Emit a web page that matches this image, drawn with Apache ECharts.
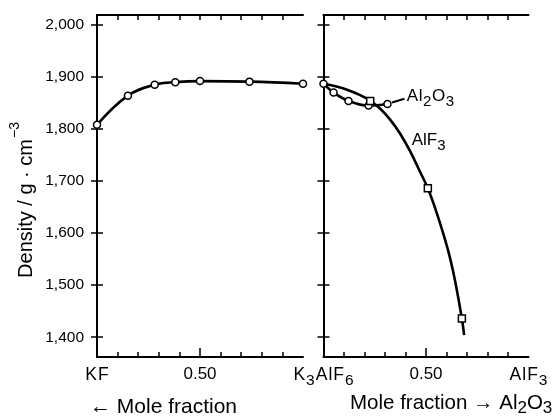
<!DOCTYPE html>
<html>
<head>
<meta charset="utf-8">
<script src="https://cdn.jsdelivr.net/npm/echarts@6/dist/echarts.min.js"></script>
<style>html,body{margin:0;padding:0;background:#fff}#c{width:557px;height:417px}</style>
</head>
<body>
<div id="c"></div>
<script>
// ---- data ----
const yTicks = [1.4, 1.5, 1.6, 1.7, 1.8, 1.9, 2.0];
const xMinorTicks = [0.1, 0.2, 0.3, 0.4, 0.5, 0.6, 0.7, 0.8, 0.9];
const leftLabels = ['KF', '0.50', ''];
const rightLabels = ['K3AlF6', '0.50', 'AlF3'];
const labelPositions = [0, 0.5, 1];

// KF - K3AlF6 branch
const kfX = [0, 0.15, 0.28, 0.38, 0.50, 0.74, 1.0];
const kfDensity = [1.808, 1.864, 1.885, 1.890, 1.892, 1.891, 1.887];

// K3AlF6 - Al2O3 branch
const al2o3X = [0, 0.049, 0.122, 0.22, 0.312];
const al2o3Density = [1.887, 1.870, 1.854, 1.845, 1.848];

// K3AlF6 - AlF3 branch (measured points)
const alf3X = [0.228, 0.509, 0.675];
const alf3Density = [1.854, 1.686, 1.436];
// AlF3 curve trace
const alf3CurveX = [0, 0.098, 0.179, 0.228, 0.277, 0.325, 0.374, 0.423, 0.472, 0.509, 0.553, 0.594, 0.618, 0.643, 0.675, 0.686];
const alf3CurveY = [1.887, 1.878, 1.865, 1.854, 1.839, 1.818, 1.791, 1.757, 1.717, 1.686, 1.638, 1.586, 1.551, 1.506, 1.436, 1.404];

// leader line for Al2O3 label
const leaderX = [0.334, 0.395];
const leaderY = [1.851, 1.858];
const alf3LabelPos = [0.43, 1.770];

const FONT = 'Liberation Sans, Arial, sans-serif';
const pair = (xs, ys) => xs.map((x, i) => [x, ys[i]]);

const chart = echarts.init(document.getElementById('c'));

const grids = [
  {left: 97, top: 15, width: 206, height: 342},
  {left: 323.5, top: 15, width: 205, height: 342}
];
const lineStyle = {color: '#000', width: 2};
const tickStyle = {color: '#000', width: 1.5};
function chemRichOf(big, small, pad) {
  return {
    n: {fontSize: big, fontFamily: FONT, color: '#000', lineHeight: big + 8, verticalAlign: 'top', padding: [0, pad, 0, pad]},
    s: {fontSize: small, fontFamily: FONT, color: '#000', lineHeight: big + 8, verticalAlign: 'top', padding: [Math.round(big * 0.38), pad, 0, pad]},
    d: {fontSize: 17, fontFamily: FONT, color: '#000', lineHeight: big + 8, verticalAlign: 'top'}
  };
}
function chem(t) {
  let out = '';
  for (const ch of t) {
    if (/[0-9]/.test(ch)) out += '{s|' + ch + '}';
    else out += '{n|' + ch + '}';
  }
  return out;
}

function xAxesFor(gi, labels) {
  return [
    {gridIndex: gi, type: 'value', min: 0, max: 1, position: 'bottom',
     axisLine: {show: true, lineStyle: lineStyle},
     axisTick: {show: true, inside: true, length: 5, lineStyle: tickStyle, customValues: xMinorTicks},
     axisLabel: {show: true, margin: 9, customValues: labelPositions,
       formatter: v => { const i = labelPositions.indexOf(v); return i >= 0 && labels[i] ? (labels[i] === '0.50' ? '{d|0.50}' : chem(labels[i])) : ''; },
       rich: chemRichOf(17.5, 15.5, 0.5)},
     splitLine: {show: false}},
    {gridIndex: gi, type: 'value', min: 0, max: 1, position: 'top',
     axisLine: {show: true, lineStyle: lineStyle},
     axisTick: {show: true, inside: true, length: 5, lineStyle: tickStyle, customValues: xMinorTicks},
     axisLabel: {show: false}, splitLine: {show: false}},
    {gridIndex: gi, type: 'value', min: 0, max: 1, position: 'bottom',
     axisLine: {show: false},
     axisTick: {show: true, inside: true, length: 9, lineStyle: tickStyle, customValues: [0.5]},
     axisLabel: {show: false}, splitLine: {show: false}}
  ];
}
function yAxesFor(gi, showLabels) {
  return [
    {gridIndex: gi, type: 'value', min: 1.362, max: 2.019, position: 'left',
     axisLine: {show: true, lineStyle: lineStyle},
     axisTick: {show: true, inside: true, length: 6, lineStyle: tickStyle, customValues: yTicks},
     axisLabel: {show: showLabels, margin: 13, customValues: yTicks, fontSize: 15.5, fontFamily: FONT, color: '#000',
       formatter: v => v.toFixed(3).replace('.', ',')},
     splitLine: {show: false}},
    {gridIndex: gi, type: 'value', min: 1.362, max: 2.019, position: 'right',
     axisLine: {show: true, lineStyle: lineStyle},
     axisTick: {show: true, inside: true, length: 6, lineStyle: tickStyle, customValues: yTicks},
     axisLabel: {show: false}, splitLine: {show: false}}
  ];
}

const circle = {symbol: 'circle', symbolSize: 7, itemStyle: {color: '#fff', borderColor: '#000', borderWidth: 1.5, opacity: 1}};
const square = {symbol: 'rect', symbolSize: 7, itemStyle: {color: '#fff', borderColor: '#000', borderWidth: 1.5, opacity: 1}};

chart.setOption({
  animation: false,
  backgroundColor: '#fff',
  grid: grids,
  xAxis: [...xAxesFor(0, leftLabels), ...xAxesFor(1, rightLabels)],
  yAxis: [...yAxesFor(0, true), ...yAxesFor(1, false)],
  series: [
    {type: 'line', xAxisIndex: 0, yAxisIndex: 0, data: pair(kfX, kfDensity), smooth: 0.4, clip: false,
     lineStyle: {color: '#000', width: 2.6}, ...circle, z: 5},
    {type: 'line', xAxisIndex: 3, yAxisIndex: 2, data: pair(alf3CurveX, alf3CurveY), smooth: 0.3, clip: false,
     showSymbol: false, lineStyle: {color: '#000', width: 2.6}, z: 4},
    {type: 'line', xAxisIndex: 3, yAxisIndex: 2, data: pair(al2o3X, al2o3Density), smooth: 0.4, clip: false,
     lineStyle: {color: '#000', width: 2.6}, ...circle, z: 5},
    {type: 'scatter', xAxisIndex: 3, yAxisIndex: 2, data: pair(alf3X, alf3Density), clip: false, ...square, z: 6},
    {type: 'line', xAxisIndex: 3, yAxisIndex: 2, data: pair(leaderX, leaderY), showSymbol: false, clip: false,
     lineStyle: {color: '#000', width: 2}, z: 4,
     endLabel: {show: true, formatter: chem('Al2O3'), rich: chemRichOf(17, 15, 0.3), distance: 2, offset: [0, 2]}},
    {type: 'scatter', xAxisIndex: 3, yAxisIndex: 2, data: [alf3LabelPos], symbolSize: 0, clip: false,
     itemStyle: {opacity: 1},
     label: {show: true, position: 'right', distance: 0, formatter: chem('AlF3'), rich: chemRichOf(17, 15, 0)}}
  ],
  graphic: [
    {type: 'text', x: 22, y: 200, rotation: Math.PI / 2, style: {
      text: '{a|Density / g · cm}{b|−3}', align: 'center', verticalAlign: 'middle',
      rich: {a: {fontSize: 20, fontFamily: FONT, fill: '#000', lineHeight: 28, verticalAlign: 'bottom'},
             b: {fontSize: 14, fontFamily: FONT, fill: '#000', lineHeight: 28, verticalAlign: 'top', padding: [0, 0, 13, 1]}}}},
    {type: 'text', x: 90, y: 407, style: {text: '← Mole fraction', fontSize: 21, fontFamily: FONT, fill: '#000', verticalAlign: 'middle'}},
    {type: 'text', x: 350, y: 407, style: {
      text: '{a|Mole fraction → Al}{b|2}{a|O}{b|3}', verticalAlign: 'middle',
      rich: {a: {fontSize: 20.5, fontFamily: FONT, fill: '#000', lineHeight: 28, verticalAlign: 'top'},
             b: {fontSize: 17, fontFamily: FONT, fill: '#000', lineHeight: 28, verticalAlign: 'top', padding: [7, 0, 0, 0]}}}}
  ]
});
</script>
</body>
</html>
